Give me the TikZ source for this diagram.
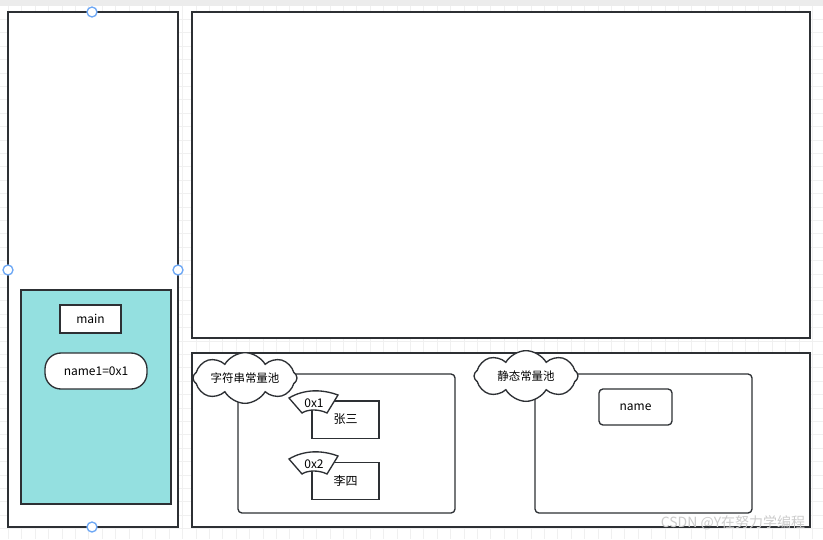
\documentclass[tikz,border=0pt]{standalone}
\usepackage{fontspec}
\setmainfont{Noto Sans CJK SC}
\usetikzlibrary{shapes.symbols,calc}
\definecolor{framecol}{RGB}{148,224,224}
\definecolor{linecol}{RGB}{45,48,52}
\definecolor{handlecol}{RGB}{110,168,245}
\definecolor{gridcol}{RGB}{240,240,240}
\definecolor{barcol}{RGB}{236,236,236}
\tikzset{
  area/.style={draw=linecol,line width=1pt},
  pool/.style={draw=linecol,line width=1pt,rounded corners=3pt},
  cell/.style={draw=linecol,line width=1pt,fill=white,inner sep=0pt,
    minimum width=#1*0.75pt,font=\fontsize{9}{11}\selectfont},
  poolname/.style={cloud,cloud puffs=8,cloud puff arc=120,cloud ignores aspect,
    draw=linecol,line width=1pt,fill=white,inner sep=0pt,minimum width=78pt,
    minimum height=38pt,font=\fontsize{8.6}{10}\selectfont},
  handle/.style={circle,draw=handlecol,line width=1pt,fill=white,
    inner sep=0pt,minimum size=7.5pt},
}
\newcommand{\addrtag}[1]{% fan label, #1 = top middle
  \draw[line width=1pt,draw=linecol,fill=white]
    ($#1+(-24,6)$) .. controls ($#1+(-9,-3)$) and ($#1+(9,-3)$) .. ($#1+(25,3)$)
    -- ($#1+(14,21)$) .. controls ($#1+(6,17)$) and ($#1+(-5,17)$) .. ($#1+(-11,21)$)
    -- cycle;
}
\begin{document}
\begin{tikzpicture}[x=0.75pt,y=-0.75pt]
    \useasboundingbox (0,0) rectangle (823,539);
    \fill[white] (0,0) rectangle (823,539);
    \foreach \gx in {8.4,21.8,...,823} \draw[gridcol,line width=0.5pt] (\gx,5.5) -- (\gx,539);
    \foreach \gy in {19.3,32.7,...,539} \draw[gridcol,line width=0.5pt] (0,\gy) -- (823,\gy);
    \fill[barcol] (0,0) rectangle (823,5.5);

    % stack
    \draw[area,fill=white] (8,12) rectangle (178,527);
    \draw[area,fill=framecol] (21,290) rectangle (171,504);
    \node[cell=61,minimum height=21pt] (main) at (90.5,319) {main};
    \node[cell=102,minimum height=27pt,rounded corners=12pt] (name1) at (96,371) {name1=0x1};
    \foreach \hx/\hy [count=\i] in {92/12,8/270,178/270,92/527}
      \node[handle] (h\i) at (\hx,\hy) {};

    % heap
    \draw[area,fill=white] (192,12) rectangle (810,338);

    % method area
    \draw[area,fill=white] (192,353) rectangle (810,527);
    \draw[pool,fill=white] (238,374) rectangle (455,513);
    \draw[pool,fill=white] (535,374) rectangle (752,513);

    \node[cell=67,minimum height=28pt] (zs) at (345.5,419.5) {张三};
    \node[cell=67,minimum height=28pt] (ls) at (345.5,481) {李四};
    \node[cell=73,minimum height=27pt,rounded corners=3pt] (name) at (635.5,407) {name};

    \node[poolname] (strpool) at (245,378) {字符串常量池};
    \node[poolname] (stpool) at (526,376) {静态常量池};

    \addrtag{(313,392)}
    \node[font=\fontsize{9}{11}\selectfont] (a1) at (314,403) {0x1};
    \addrtag{(313,453)}
    \node[font=\fontsize{9}{11}\selectfont] (a2) at (314,464) {0x2};

    \node[text=gray!40,font=\fontsize{10.5}{12}\selectfont] (mark) at (733,523) {CSDN @Y在努力学编程};
\end{tikzpicture}
\end{document}
